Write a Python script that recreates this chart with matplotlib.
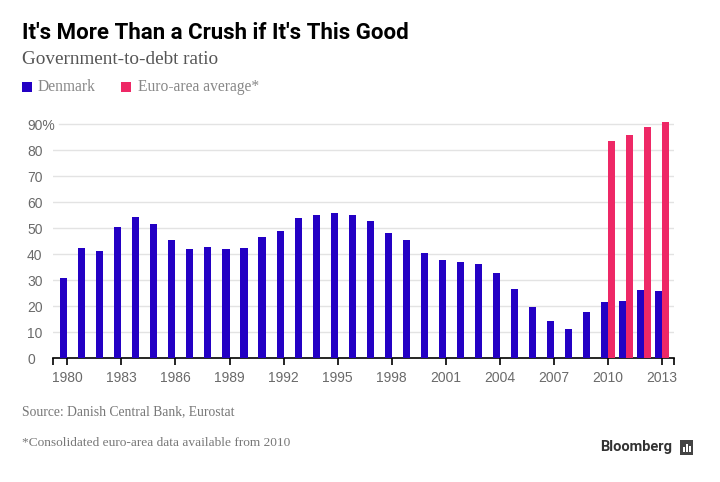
import numpy as np
import matplotlib.pyplot as plt
from matplotlib.patches import Rectangle

# data (percent)
years = list(range(1980, 2014))
denmark = [30.6, 42.3, 41.2, 50.4, 54.2, 51.5, 45.4, 41.9, 42.7, 41.9,
           42.3, 46.5, 48.8, 53.8, 55.0, 55.6, 55.0, 52.7, 48.1, 45.4,
           40.4, 37.6, 36.9, 36.2, 32.7, 26.5, 19.6, 14.2, 11.2, 17.7,
           21.5, 21.9, 26.2, 25.8]
euro_years = [2010, 2011, 2012, 2013]
euro_area = [83.5, 85.8, 88.8, 90.8]
tick_years = list(range(1980, 2014, 3))
y_ticks = [0, 10, 20, 30, 40, 50, 60, 70, 80, 90]
y_labels = ['0', '10', '20', '30', '40', '50', '60', '70', '80', '90%']

BLUE = '#2300c4'
PINK = '#ee2866'
GRAY = '#6a6a6a'

fig = plt.figure(figsize=(7.2, 4.82), dpi=100)
ax = fig.add_axes([53 / 720, 1 - 358 / 482, (674 - 53) / 720, 239.2 / 482])

ax.bar(np.array(years) - 0.195, denmark, width=0.39, color=BLUE, zorder=3)
ax.bar(np.array(euro_years) + 0.195, euro_area, width=0.39, color=PINK, zorder=3)

ax.set_xlim(1979.2, 2013.68)
ax.set_ylim(0, 92)

# gridlines
for y in y_ticks[1:]:
    start = 0.01 if y == 90 else 0.0
    ax.axhline(y, xmin=start, color='#e3e3e3', lw=1, zorder=1)

for s in ['top', 'right', 'left']:
    ax.spines[s].set_visible(False)
ax.spines['bottom'].set_color('black')
ax.spines['bottom'].set_linewidth(1.2)

ax.set_xticks(tick_years)
ax.set_xticklabels([str(y) for y in tick_years])
ax.set_xticks([1979.22, 2013.66], minor=True)
ax.tick_params(axis='x', which='both', direction='out', length=5, width=1.2,
               color='black', labelcolor=GRAY, labelsize=10, pad=4)
ax.set_yticks(y_ticks)
ax.set_yticklabels(y_labels)
ax.tick_params(axis='y', length=0, labelcolor=GRAY, labelsize=10, pad=18.7)
for lab in ax.get_yticklabels():
    lab.set_horizontalalignment('left')
for lab in ax.get_xticklabels() + ax.get_yticklabels():
    lab.set_family('Liberation Sans')

# titles
fig.text(22 / 720, 1 - 33 / 482, "It's More Than a Crush if It's This Good",
         fontsize=16, fontweight='bold', family='Roboto', va='center', color='black')
fig.text(22 / 720, 1 - 59 / 482, 'Government-to-debt ratio',
         fontsize=13.8, family='Liberation Serif', va='center', color='#555555')

# legend
fig.patches.append(Rectangle((22 / 720, 1 - 92 / 482), 10 / 720, 10 / 482,
                             transform=fig.transFigure, color=BLUE, lw=0))
fig.text(38 / 720, 1 - 87 / 482, 'Denmark', fontsize=11.2,
         family='Liberation Serif', va='center', color='#888888')
fig.patches.append(Rectangle((121 / 720, 1 - 92 / 482), 10 / 720, 10 / 482,
                             transform=fig.transFigure, color=PINK, lw=0))
fig.text(138 / 720, 1 - 87 / 482, 'Euro-area average*', fontsize=11.2,
         family='Liberation Serif', va='center', color='#888888')

# footer
fig.text(22 / 720, 1 - 412 / 482, 'Source: Danish Central Bank, Eurostat',
         fontsize=9.8, family='Liberation Serif', va='center', color='#777777')
fig.text(22 / 720, 1 - 443 / 482, '*Consolidated euro-area data available from 2010',
         fontsize=9.6, family='Liberation Serif', va='center', color='#777777')
fig.text(672 / 720, 1 - 447 / 482, 'Bloomberg', fontsize=10.5, fontweight='bold',
         family='Roboto', ha='right', va='center', color='#333333')
fig.patches.append(Rectangle((680 / 720, 1 - 455 / 482), 13 / 720, 15 / 482,
                             transform=fig.transFigure, color='#444444', lw=0))
for i, h in enumerate([5, 8, 6]):
    fig.patches.append(Rectangle(((683 + i * 3) / 720, 1 - 452 / 482), 1.5 / 720, h / 482,
                                 transform=fig.transFigure, color='white', lw=0))

fig.savefig('out.png', dpi=100)
